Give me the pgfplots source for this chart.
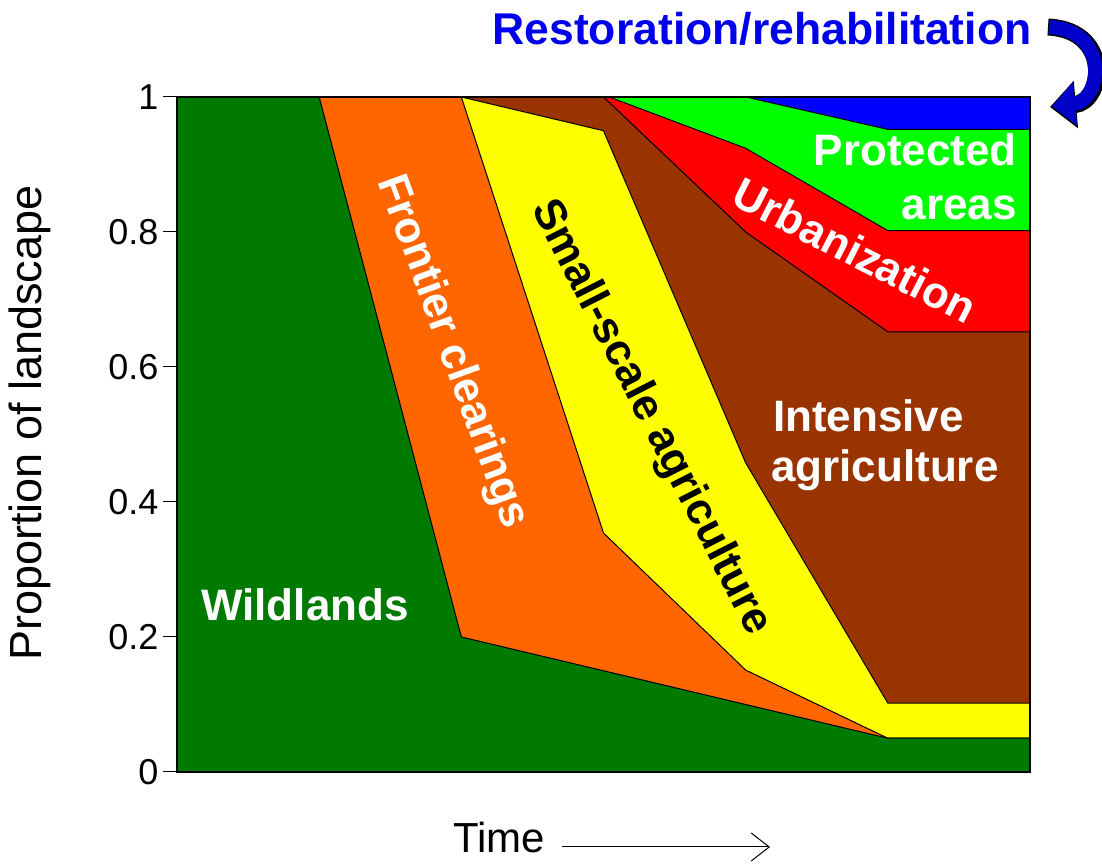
\documentclass[border=0pt]{standalone}
\usepackage{fontspec}
\setmainfont{Liberation Sans}
\usepackage{pgfplots}
\pgfplotsset{compat=1.18}
\usetikzlibrary{arrows.meta}
\definecolor{cwild}{RGB}{0,122,0}
\definecolor{corange}{RGB}{255,102,0}
\definecolor{cyellow}{RGB}{255,255,0}
\definecolor{cbrown}{RGB}{153,51,0}
\definecolor{cred}{RGB}{255,0,0}
\definecolor{cgreen}{RGB}{0,255,0}
\definecolor{cblue}{RGB}{0,0,255}
\definecolor{ctitle}{RGB}{0,0,235}
\definecolor{carrow}{RGB}{0,0,200}
\begin{document}
\begin{tikzpicture}[x=1pt,y=1pt]
\begin{axis}[
  at={(177pt,92pt)}, anchor=south west,
  width=853pt, height=675pt, scale only axis,
  xmin=0, xmax=6, ymin=0, ymax=1,
  xtick=\empty,
  ytick={0,0.2,0.4,0.6,0.8,1},
  ytick pos=left, tick align=outside, major tick length=14pt,
  tick style={black, line width=1pt},
  axis line style={black, line width=1.2pt},
  axis on top,
  /pgf/number format/assume math mode=true,
  yticklabel style={font=\fontsize{36}{42}\selectfont, xshift=-1pt},
  ylabel={Proportion of landscape},
  ylabel style={font=\fontsize{45}{52}\selectfont, at={(axis description cs:-0.172,0.517)}, anchor=center},
  every axis plot/.append style={draw=black, line width=1pt},
]
% cumulative tops, drawn from top layer downwards
\addplot[fill=cblue] coordinates {(0,1) (6,1)} \closedcycle;
\addplot[fill=cgreen] coordinates {(0,1) (4,1) (5,0.952) (6,0.952)} \closedcycle;
\addplot[fill=cred] coordinates {(0,1) (3.04,1) (4,0.924) (5,0.802) (6,0.802)} \closedcycle;
\addplot[fill=cbrown] coordinates {(0,1) (3,1) (4,0.80) (5,0.652) (6,0.652)} \closedcycle;
\addplot[fill=cyellow] coordinates {(0,1) (2,1) (3,0.95) (4,0.458) (5,0.102) (6,0.102)} \closedcycle;
\addplot[fill=corange] coordinates {(0,1) (2,1) (3,0.354) (4,0.151) (5,0.05) (6,0.05)} \closedcycle;
\addplot[fill=cwild] coordinates {(0,1) (1,1) (2,0.2) (3,0.15) (4,0.1) (5,0.05) (6,0.05)} \closedcycle;

\node[white, font=\fontsize{44}{50}\selectfont\bfseries] at (axis cs:0.90,0.247) {Wildlands};
\node[white, font=\fontsize{44}{50}\selectfont\bfseries, rotate=-70] at (axis cs:1.934,0.622) {Frontier clearings};
\node[black, font=\fontsize{44}{50}\selectfont\bfseries, rotate=-63] at (axis cs:3.33,0.525) {Small-scale agriculture};
\node[white, font=\fontsize{44}{50}\selectfont\bfseries, anchor=base west, inner sep=0pt] at (axis cs:4.192,0.505) {Intensive};
\node[white, font=\fontsize{44}{50}\selectfont\bfseries, anchor=base west, inner sep=0pt] at (axis cs:4.178,0.430) {agriculture};
\node[white, font=\fontsize{44}{50}\selectfont\bfseries, rotate=-27] at (axis cs:4.769,0.773) {Urbanization};
\node[white, font=\fontsize{44}{50}\selectfont\bfseries, anchor=base east, inner sep=0pt] at (axis cs:5.908,0.898) {Protected};
\node[white, font=\fontsize{44}{50}\selectfont\bfseries, anchor=base east, inner sep=0pt] at (axis cs:5.908,0.819) {areas};
\end{axis}
% title
\node[ctitle, font=\fontsize{44.5}{50}\selectfont\bfseries, anchor=base, inner sep=0pt] at (762,819) {Restoration/rehabilitation};
% curved arrow
\draw[black, line width=17pt, -{Triangle[width=46pt,length=26pt]}] (1048,837) .. controls (1112,834) and (1104,762) .. (1050,757);
\draw[carrow, line width=14pt, -{Triangle[width=42pt,length=23pt]}] (1049,837) .. controls (1110,834) and (1102,763) .. (1052,757.5);
% x label
\node[font=\fontsize{42}{48}\selectfont, anchor=base west, inner sep=0pt] at (453,12) {Time};
\draw[black, line width=1pt, -{Straight Barb[length=18pt,width=28pt]}] (562,17) -- (770,17);
\pgfresetboundingbox
\path (0,0) rectangle (1102,864);
\end{tikzpicture}
\end{document}
